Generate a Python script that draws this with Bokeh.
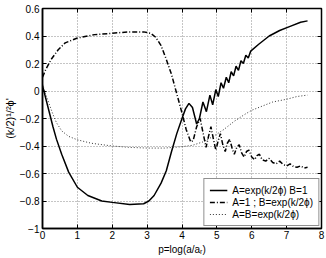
from bokeh.plotting import figure
from bokeh.models import (LinearAxis, FixedTicker, CustomJSTickFormatter,
                          ColumnDataSource, CDSView, BooleanFilter)
from bokeh.embed import file_html
from bokeh.resources import INLINE

# ---------------- data ----------------
x_ticks = [0, 1, 2, 3, 4, 5, 6, 7, 8]
y_ticks = [-1.0, -0.8, -0.6, -0.4, -0.2, 0.0, 0.2, 0.4, 0.6]

x_title = "p=log(a/aᵣ)"
y_title = "(k/2)¹/²ϕ'"
series_names = ["A=exp(k/2ϕ) B=1", "A=1 ; B=exp(k/2ϕ)", "A=B=exp(k/2ϕ)"]

x1 = [0.0, 0.1, 0.2, 0.3, 0.4, 0.55, 0.75, 1.0, 1.3, 1.7, 2.0, 2.5, 2.9, 3.05, 3.2,
      3.4, 3.55, 3.7, 3.85, 4.0, 4.1, 4.2, 4.3, 4.42, 4.5, 4.6, 4.7, 4.8, 4.88, 4.97,
      5.04, 5.12, 5.19, 5.27, 5.34, 5.41, 5.48, 5.55, 5.62, 5.69, 5.76, 5.83, 5.9,
      5.97, 6.2, 6.5, 6.8, 7.1, 7.4, 7.6]
y1 = [0.04, -0.06, -0.16, -0.26, -0.35, -0.46, -0.59, -0.70, -0.76, -0.80, -0.81,
      -0.825, -0.82, -0.80, -0.76, -0.67, -0.58, -0.44, -0.31, -0.20, -0.13, -0.09,
      -0.12, -0.24, -0.20, -0.08, -0.15, -0.03, -0.10, 0.01, -0.04, 0.06, 0.02, 0.10,
      0.06, 0.14, 0.11, 0.18, 0.15, 0.22, 0.20, 0.26, 0.24, 0.29, 0.34, 0.40, 0.44,
      0.47, 0.50, 0.51]

x2 = [0.0, 0.1, 0.25, 0.45, 0.65, 1.0, 1.5, 2.0, 2.5, 2.9, 3.1, 3.25, 3.4, 3.55, 3.7,
      3.85, 4.0, 4.12, 4.25, 4.32, 4.42, 4.52, 4.6, 4.69, 4.76, 4.83, 4.9, 4.97, 5.04,
      5.1, 5.17, 5.24, 5.3, 5.37, 5.44, 5.5, 5.57, 5.64, 5.71, 5.78, 5.85, 5.92, 6.0,
      6.08, 6.15, 6.22, 6.3, 6.4, 6.5, 6.6, 6.7, 6.8, 6.9, 7.0, 7.1, 7.2, 7.3, 7.4,
      7.5, 7.6]
y2 = [0.10, 0.16, 0.23, 0.30, 0.35, 0.385, 0.41, 0.42, 0.43, 0.43, 0.42, 0.39, 0.33,
      0.23, 0.12, -0.02, -0.16, -0.28, -0.37, -0.36, -0.26, -0.20, -0.30, -0.41,
      -0.33, -0.26, -0.35, -0.43, -0.36, -0.31, -0.39, -0.44, -0.38, -0.35, -0.42,
      -0.46, -0.41, -0.39, -0.45, -0.48, -0.44, -0.43, -0.48, -0.50, -0.47, -0.46,
      -0.50, -0.51, -0.49, -0.52, -0.53, -0.51, -0.535, -0.545, -0.53, -0.55, -0.555,
      -0.545, -0.56, -0.555]

x3 = [0.0, 0.1, 0.2, 0.3, 0.4, 0.55, 0.75, 1.0, 1.4, 2.0, 2.5, 3.0, 3.5, 4.0, 4.3,
      4.6, 4.9, 5.2, 5.5, 5.8, 6.0, 6.3, 6.6, 7.0, 7.3, 7.6]
y3 = [0.05, -0.03, -0.10, -0.17, -0.23, -0.29, -0.33, -0.355, -0.38, -0.40, -0.41,
      -0.415, -0.415, -0.405, -0.395, -0.37, -0.33, -0.28, -0.22, -0.17, -0.14, -0.11,
      -0.08, -0.06, -0.04, -0.03]

# ---------------- figure ----------------
FONT = "Liberation Sans"
p = figure(width=326, height=258, x_range=(0, 8), y_range=(-1, 0.6),
           output_backend="svg", toolbar_location=None,
           min_border_left=41, min_border_right=5, min_border_top=8, min_border_bottom=30)
p.background_fill_color = "white"
p.border_fill_color = "white"
p.outline_line_color = "black"
p.outline_line_width = 1.5

fmt = CustomJSTickFormatter(code="""
const v = Math.round(tick*10)/10;
let s = (v === 0) ? "0" : String(Math.abs(v));
if (v < 0) s = "\\u2212" + s;
return s;
""")

for ax, tk in ((p.xaxis[0], x_ticks), (p.yaxis[0], y_ticks)):
    ax.ticker = FixedTicker(ticks=tk)
    ax.formatter = fmt
    ax.axis_line_color = "black"
    ax.axis_line_width = 1.5
    ax.major_tick_in = 4
    ax.major_tick_out = 0
    ax.minor_tick_line_color = None
    ax.major_tick_line_color = "black"
    ax.major_label_text_font = FONT
    ax.major_label_text_font_size = "10px"
    ax.major_label_text_color = "black"
    ax.axis_label_text_font = FONT
    ax.axis_label_text_font_size = "10px"
    ax.axis_label_text_font_style = "normal"
    ax.axis_label_text_color = "black"
p.yaxis[0].major_label_standoff = 3
p.xaxis[0].major_label_standoff = 2
p.xaxis[0].axis_label = x_title
p.xaxis[0].axis_label_standoff = 2
p.yaxis[0].axis_label = y_title
p.yaxis[0].axis_label_standoff = 1
p.yaxis[0].axis_label_text_font_size = "11px"

blank = CustomJSTickFormatter(code="return '';")
for side, tk in (("right", y_ticks), ("above", x_ticks)):
    ax = LinearAxis(ticker=FixedTicker(ticks=tk), formatter=blank,
                    major_label_standoff=0, axis_line_color=None, major_tick_in=4,
                    major_tick_out=0, minor_tick_line_color=None,
                    major_tick_line_color="black")
    p.add_layout(ax, side)

p.xgrid.ticker = FixedTicker(ticks=x_ticks)
p.ygrid.ticker = FixedTicker(ticks=y_ticks)
for g in (p.xgrid[0], p.ygrid[0]):
    g.grid_line_color = "#8a8a8a"
    g.grid_line_dash = "1 2"
    g.grid_line_width = 1

# ---------------- lines ----------------
src1 = ColumnDataSource(dict(x=x1, y=y1))
p.line("x", "y", source=src1, line_color="black", line_width=1.5,
       legend_label=series_names[0])
tail = CDSView(filter=BooleanFilter([xv >= 5.83 for xv in x1]))
p.line("x", "y", source=src1, view=tail, line_color="black", line_width=2.8)

p.line(x2, y2, line_color="black", line_width=1.5, line_dash="5 2 1 2",
       legend_label=series_names[1])
p.line(x3, y3, line_color="#333333", line_width=1, line_dash="1 2",
       legend_label=series_names[2])

lg = p.legend[0]
lg.location = "bottom_right"
lg.margin = 2
lg.padding = 5
lg.spacing = 0
lg.label_height = 12
lg.glyph_height = 12
lg.glyph_width = 18
lg.label_standoff = 5
lg.label_text_font = FONT
lg.label_text_font_size = "10px"
lg.label_text_color = "black"
lg.border_line_color = "#222222"
lg.border_line_width = 1
lg.background_fill_alpha = 1.0

open("out.html", "w").write(file_html(p, INLINE))
